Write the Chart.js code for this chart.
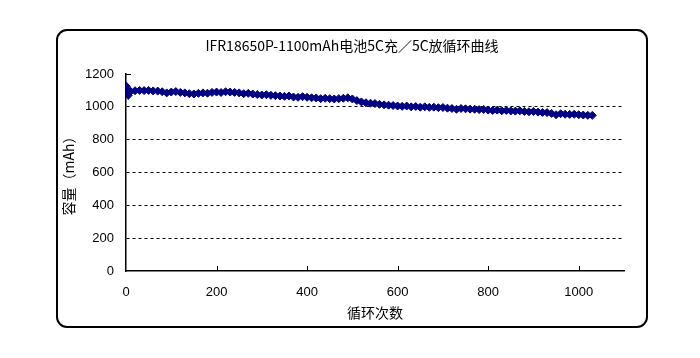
<!DOCTYPE html>
<html>
<head>
<meta charset="utf-8">
<script src="https://cdn.jsdelivr.net/npm/chart.js@4/dist/chart.umd.min.js"></script>
<style>
  body { margin: 0; background: #fff; }
  #wrap { position: relative; width: 700px; height: 358px; }
  #frame { position: absolute; left: 56px; top: 29px; width: 588px; height: 295px;
           border: 2.5px solid #000; border-radius: 11px; }
  canvas { position: absolute; left: 0; top: 0; }
</style>
</head>
<body>
<div id="wrap">
  <div id="frame"></div>
  <canvas id="myChart" width="700" height="358"></canvas>
</div>
<script>
// 循环次数 / 容量(mAh)
var cycles = [1, 3, 5, 8, 10, 20, 30, 40, 50, 60, 70, 80, 90, 100, 110, 120, 130, 140, 150, 160,
  170, 180, 190, 200, 210, 220, 230, 240, 250, 260, 270, 280, 290, 300, 310, 320, 330, 340, 350, 360,
  370, 380, 390, 400, 410, 420, 430, 440, 450, 460, 470, 480, 490, 500, 510, 520, 530, 540, 550, 560,
  570, 580, 590, 600, 610, 620, 630, 640, 650, 660, 670, 680, 690, 700, 710, 720, 730, 740, 750, 760,
  770, 780, 790, 800, 810, 820, 830, 840, 850, 860, 870, 880, 890, 900, 910, 920, 930, 940, 950, 960,
  970, 980, 990, 1000, 1010, 1020, 1030];
var capacity = [1125, 1080, 1070, 1090, 1095, 1098, 1100, 1099, 1100, 1097, 1096, 1092, 1085, 1090, 1093, 1088, 1085, 1080, 1078, 1082,
  1085, 1083, 1088, 1090, 1087, 1092, 1090, 1088, 1085, 1080, 1082, 1078, 1075, 1072, 1074, 1070, 1068, 1066, 1064, 1066,
  1060, 1058, 1062, 1058, 1055, 1054, 1050, 1052, 1050, 1048, 1050, 1052, 1055, 1048, 1038, 1030, 1025, 1022, 1020, 1015,
  1012, 1010, 1008, 1005, 1003, 1005, 1000, 1002, 998, 1000, 997, 998, 995, 996, 992, 990, 985, 990, 988, 986,
  985, 983, 984, 980, 978, 980, 976, 978, 975, 974, 976, 972, 970, 972, 968, 966, 965, 960, 952, 958,
  955, 954, 955, 952, 950, 948, 948];
var xTicks = [0, 200, 400, 600, 800, 1000];
var yTicks = [0, 200, 400, 600, 800, 1000, 1200];
var title = 'IFR18650P-1100mAh电池5C充／5C放循环曲线';

var points = [];
for (var i = 0; i < cycles.length; i++) {
    points.push({x: cycles[i], y: capacity[i]});
}

var fontFam = "'Liberation Sans', 'Noto Sans CJK SC', sans-serif";

var extras = {
    id: 'extras',
    afterDraw: function (chart) {
        var ctx = chart.ctx;
        var x = chart.scales.x, y = chart.scales.y;
        ctx.save();
        // inner tick marks on the x axis
        ctx.strokeStyle = '#000';
        ctx.lineWidth = 1;
        xTicks.forEach(function (v) {
            if (v === 0) return;
            var px = Math.round(x.getPixelForValue(v)) + 0.5;
            ctx.beginPath();
            ctx.moveTo(px, y.bottom);
            ctx.lineTo(px, y.bottom - 5);
            ctx.stroke();
        });
        // small tick at the top of the y axis
        var top = Math.round(y.getPixelForValue(1200)) + 0.5;
        ctx.beginPath();
        ctx.moveTo(x.left, top);
        ctx.lineTo(x.left + 5, top);
        ctx.stroke();
        // title
        ctx.fillStyle = '#000';
        ctx.font = "14px 'Noto Sans CJK SC', sans-serif";
        ctx.textAlign = 'center';
        ctx.textBaseline = 'middle';
        ctx.fillText(title, 352, 46);
        ctx.restore();
    }
};

var chart1 = new Chart(document.getElementById('myChart').getContext('2d'), {
    type: 'line',
    data: {
        datasets: [{
            label: 'capacity',
            data: points,
            borderColor: '#000080',
            backgroundColor: '#000080',
            borderWidth: 4,
            pointStyle: 'rectRot',
            pointRadius: 4,
            pointBorderWidth: 1,
            tension: 0
        }]
    },
    options: {
        responsive: false,
        animation: false,
        layout: {padding: {left: 56, right: 76, top: 74, bottom: 33}},
        plugins: {legend: {display: false}, tooltip: {enabled: false}},
        scales: {
            x: {
                type: 'linear',
                min: 0, max: 1100,
                afterBuildTicks: function (s) { s.ticks = xTicks.map(function (v) { return {value: v}; }); },
                afterFit: function (s) { s.height = 54; },
                grid: {display: false, drawTicks: false},
                border: {color: '#000', width: 1.5},
                ticks: {color: '#000', font: {family: fontFam, size: 13}, padding: 14, maxRotation: 0,
                        callback: function (v) { return String(v); }},
                title: {display: true, text: '循环次数', color: '#000',
                        font: {family: "'Noto Sans CJK SC', sans-serif", size: 14}, padding: {top: 0}}
            },
            y: {
                min: 0, max: 1200,
                afterBuildTicks: function (s) { s.ticks = yTicks.map(function (v) { return {value: v}; }); },
                afterFit: function (s) { s.width = 70; },
                grid: {
                    drawTicks: false,
                    color: function (c) {
                        var v = c.tick ? c.tick.value : 0;
                        return (v > 0 && v < 1200) ? '#000' : 'rgba(0,0,0,0)';
                    },
                    lineWidth: 1
                },
                border: {color: '#000', width: 1.5, dash: [3, 3], dashOffset: 0},
                ticks: {color: '#000', font: {family: fontFam, size: 13}, padding: 12,
                        callback: function (v) { return String(v); }},
                title: {display: true, text: '容量（mAh）', color: '#000',
                        font: {family: "'Noto Sans CJK SC', sans-serif", size: 14}, padding: {bottom: 2}}
            }
        }
    },
    plugins: [extras]
});
</script>
</body>
</html>
